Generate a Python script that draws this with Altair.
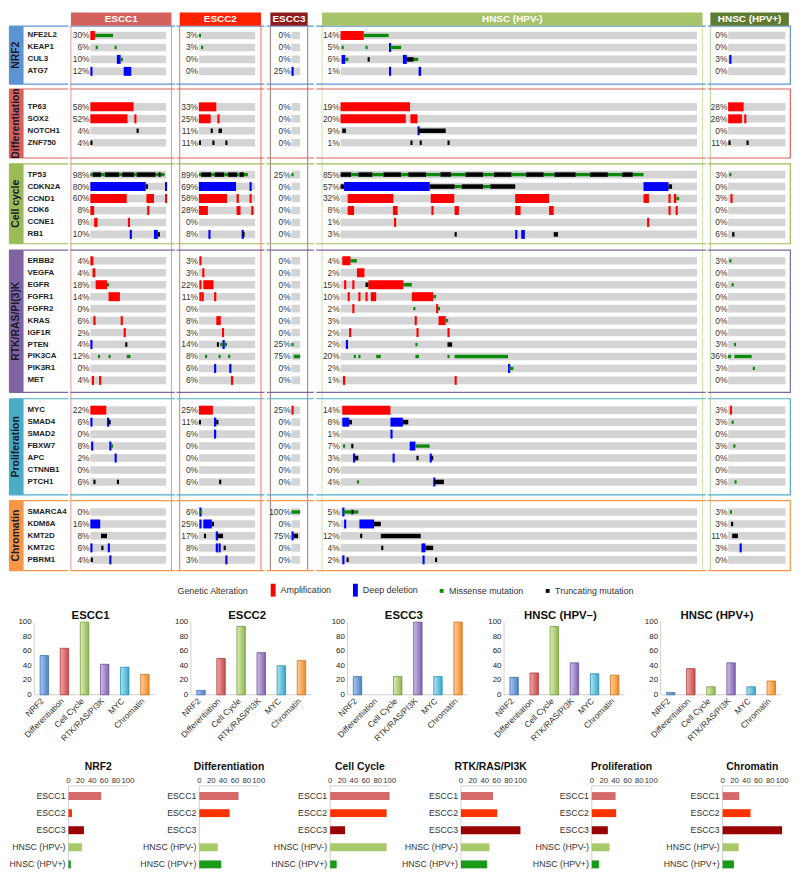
import altair as alt
import pandas as pd

FONT = "Liberation Sans"

# ---------------- data ----------------
COHORTS = ["ESCC1", "ESCC2", "ESCC3", "HNSC (HPV-)", "HNSC (HPV+)"]
GROUPS = ["NRF2", "Differentiation", "Cell cycle", "RTK/RAS/PI(3)K", "Proliferation", "Chromatin"]
GENES_NRF2 = ["NFE2L2", "KEAP1", "CUL3", "ATG7"]
GENES_DIFF = ["TP63", "SOX2", "NOTCH1", "ZNF750"]
GENES_CC = ["TP53", "CDKN2A", "CCND1", "CDK6", "CCNE1", "RB1"]
GENES_RTK = ["ERBB2", "VEGFA", "EGFR", "FGFR1", "FGFR2", "KRAS", "IGF1R", "PTEN", "PIK3CA", "PIK3R1", "MET"]
GENES_PROL = ["MYC", "SMAD4", "SMAD2", "FBXW7", "APC", "CTNNB1", "PTCH1"]
GENES_CHROM = ["SMARCA4", "KDM6A", "KMT2D", "KMT2C", "PBRM1"]
GROUP_GENES = [GENES_NRF2, GENES_DIFF, GENES_CC, GENES_RTK, GENES_PROL, GENES_CHROM]

PCT_ESCC1 = [30, 6, 10, 12, 58, 52, 4, 4, 98, 80, 60, 8, 8, 10, 4, 4, 18, 14, 0, 6, 2, 4, 12, 0, 4, 22, 6, 0, 8, 2, 0, 6, 0, 16, 8, 6, 4]
PCT_ESCC2 = [3, 3, 0, 0, 33, 25, 11, 11, 89, 69, 58, 28, 0, 8, 3, 3, 22, 11, 0, 8, 3, 14, 8, 6, 6, 25, 11, 6, 0, 0, 0, 6, 6, 25, 17, 8, 3]
PCT_ESCC3 = [0, 0, 0, 25, 0, 0, 0, 0, 25, 0, 0, 0, 0, 0, 0, 0, 0, 0, 0, 0, 0, 25, 75, 0, 0, 25, 0, 0, 0, 0, 0, 0, 100, 0, 75, 0, 0]
PCT_HNSC_NEG = [14, 5, 6, 1, 19, 20, 9, 1, 85, 57, 32, 8, 1, 3, 4, 2, 15, 10, 2, 3, 2, 2, 20, 2, 1, 14, 8, 1, 7, 3, 0, 4, 5, 7, 12, 4, 2]
PCT_HNSC_POS = [0, 0, 3, 0, 28, 28, 0, 11, 3, 0, 3, 0, 0, 6, 3, 0, 6, 0, 0, 0, 0, 3, 36, 3, 0, 3, 3, 0, 3, 0, 0, 3, 3, 3, 11, 3, 0]
PCTS = [PCT_ESCC1, PCT_ESCC2, PCT_ESCC3, PCT_HNSC_NEG, PCT_HNSC_POS]

# (gene, cohort index, alteration, start % of samples, end % or None for a single sample)
SEGMENTS = [
    ("NFE2L2", 0, "amp", 0, 6), ("NFE2L2", 0, "mis", 6, 30), ("NFE2L2", 1, "mis", 0, None),
    ("NFE2L2", 3, "amp", 0, 6.5), ("NFE2L2", 3, "mis", 6.5, 13.5),
    ("KEAP1", 0, "mis", 7, None), ("KEAP1", 0, "mis", 32, None), ("KEAP1", 1, "mis", 4, None),
    ("KEAP1", 3, "mis", 0.3, None), ("KEAP1", 3, "mis", 7, None), ("KEAP1", 3, "del", 13.6, None), ("KEAP1", 3, "mis", 14, 17),
    ("CUL3", 0, "del", 35, 40), ("CUL3", 0, "mis", 40, 43),
    ("CUL3", 3, "del", 0.3, 1.3), ("CUL3", 3, "mis", 1.3, 2.2), ("CUL3", 3, "trunc", 7.6, None),
    ("CUL3", 3, "del", 17.5, 18.6), ("CUL3", 3, "trunc", 18.6, 20.5), ("CUL3", 3, "mis", 20.5, 21.8), ("CUL3", 4, "del", 2, 4),
    ("ATG7", 0, "del", 0, 1.5), ("ATG7", 0, "del", 44, 54), ("ATG7", 2, "del", 0, 25),
    ("ATG7", 3, "del", 13.6, None), ("ATG7", 3, "del", 21.9, 22.6),
    ("TP63", 0, "amp", 0, 57), ("TP63", 1, "amp", 0, 31), ("TP63", 3, "amp", 0, 19.5), ("TP63", 4, "amp", 0, 27),
    ("SOX2", 0, "amp", 0, 49), ("SOX2", 0, "amp", 58, None), ("SOX2", 1, "amp", 0, 21), ("SOX2", 1, "amp", 33, None),
    ("SOX2", 3, "amp", 0, 18.3), ("SOX2", 3, "amp", 19.6, 21.6), ("SOX2", 4, "amp", 0, 24), ("SOX2", 4, "amp", 28, None),
    ("NOTCH1", 0, "trunc", 61, None), ("NOTCH1", 1, "trunc", 21, None), ("NOTCH1", 1, "trunc", 35, 41),
    ("NOTCH1", 3, "trunc", 0.5, 1.5), ("NOTCH1", 3, "del", 21.6, None), ("NOTCH1", 3, "trunc", 21.8, 29.5),
    ("ZNF750", 0, "trunc", 0, None), ("ZNF750", 1, "trunc", 0, None), ("ZNF750", 1, "trunc", 24, None), ("ZNF750", 1, "trunc", 47, None),
    ("ZNF750", 3, "trunc", 19.6, None), ("ZNF750", 3, "trunc", 22.2, None), ("ZNF750", 3, "trunc", 30, None),
    ("ZNF750", 4, "trunc", 0.5, None), ("ZNF750", 4, "trunc", 32, None),
    ("TP53", 0, "mis", 0, 3), ("TP53", 0, "trunc", 3, 14), ("TP53", 0, "mis", 14, 19), ("TP53", 0, "trunc", 19, 38),
    ("TP53", 0, "mis", 38, 42), ("TP53", 0, "trunc", 42, 58), ("TP53", 0, "mis", 58, 61), ("TP53", 0, "trunc", 61, 86),
    ("TP53", 0, "mis", 86, 90), ("TP53", 0, "trunc", 90, 93), ("TP53", 0, "mis", 93, 98),
    ("TP53", 1, "mis", 0, 4), ("TP53", 1, "trunc", 4, 22), ("TP53", 1, "mis", 22, 28), ("TP53", 1, "trunc", 28, 45),
    ("TP53", 1, "mis", 45, 52), ("TP53", 1, "trunc", 52, 68), ("TP53", 1, "mis", 68, 72), ("TP53", 1, "trunc", 72, 80), ("TP53", 1, "mis", 80, 87),
    ("TP53", 2, "mis", 0, 25),
    ("TP53", 3, "trunc", 0, 3), ("TP53", 3, "mis", 3, 5), ("TP53", 3, "trunc", 5, 9), ("TP53", 3, "mis", 9, 12),
    ("TP53", 3, "trunc", 12, 17), ("TP53", 3, "mis", 17, 19), ("TP53", 3, "trunc", 19, 24), ("TP53", 3, "mis", 24, 28),
    ("TP53", 3, "trunc", 28, 31), ("TP53", 3, "mis", 31, 35), ("TP53", 3, "trunc", 35, 40), ("TP53", 3, "mis", 40, 43),
    ("TP53", 3, "trunc", 43, 48), ("TP53", 3, "mis", 48, 52), ("TP53", 3, "trunc", 52, 57), ("TP53", 3, "mis", 57, 60),
    ("TP53", 3, "trunc", 60, 66), ("TP53", 3, "mis", 66, 70), ("TP53", 3, "trunc", 70, 75), ("TP53", 3, "mis", 75, 79),
    ("TP53", 3, "trunc", 79, 82), ("TP53", 3, "mis", 82, 85), ("TP53", 4, "mis", 2, None),
    ("CDKN2A", 0, "del", 0, 73), ("CDKN2A", 0, "trunc", 73, 76), ("CDKN2A", 0, "del", 98.5, None),
    ("CDKN2A", 1, "del", 0, 66), ("CDKN2A", 1, "del", 90, None),
    ("CDKN2A", 3, "trunc", 0, 1), ("CDKN2A", 3, "del", 1, 25), ("CDKN2A", 3, "trunc", 25, 32), ("CDKN2A", 3, "mis", 32, 34),
    ("CDKN2A", 3, "trunc", 34, 40), ("CDKN2A", 3, "mis", 40, 42), ("CDKN2A", 3, "trunc", 42, 49),
    ("CDKN2A", 3, "del", 85, 92), ("CDKN2A", 3, "trunc", 92, 93),
    ("CCND1", 0, "amp", 0, 48), ("CCND1", 0, "amp", 74, 84), ("CCND1", 0, "amp", 98.5, None),
    ("CCND1", 1, "amp", 0, 50), ("CCND1", 1, "amp", 67, 71), ("CCND1", 1, "amp", 90, None),
    ("CCND1", 3, "amp", 2, 14.8), ("CCND1", 3, "amp", 25.3, 31.9), ("CCND1", 3, "amp", 49, 58.5), ("CCND1", 3, "amp", 85, 86.5),
    ("CCND1", 3, "amp", 92, None), ("CCND1", 3, "amp", 93.5, 94.2), ("CCND1", 3, "mis", 94.2, 95), ("CCND1", 4, "amp", 4, None),
    ("CDK6", 0, "amp", 0, 5), ("CDK6", 0, "amp", 75, None), ("CDK6", 1, "amp", 0, 16), ("CDK6", 1, "amp", 67, 74), ("CDK6", 1, "amp", 93, None),
    ("CDK6", 3, "amp", 2, 3.8), ("CDK6", 3, "amp", 14.7, 16), ("CDK6", 3, "amp", 25.5, None), ("CDK6", 3, "amp", 32, 33.2),
    ("CDK6", 3, "amp", 49, 50.5), ("CDK6", 3, "amp", 58.5, 59.8), ("CDK6", 3, "amp", 92, None), ("CDK6", 3, "amp", 94, None),
    ("CCNE1", 0, "amp", 5, 9.5), ("CCNE1", 0, "amp", 49.5, 51.5), ("CCNE1", 3, "amp", 15, None), ("CCNE1", 3, "amp", 86, None),
    ("RB1", 0, "del", 52, None), ("RB1", 0, "del", 84, 89), ("RB1", 0, "trunc", 89, 91),
    ("RB1", 1, "del", 17, None), ("RB1", 1, "del", 76, None), ("RB1", 1, "trunc", 77.5, None),
    ("RB1", 3, "trunc", 32, None), ("RB1", 3, "del", 49, None), ("RB1", 3, "del", 50.7, 51.7), ("RB1", 3, "trunc", 59.8, 61),
    ("RB1", 4, "trunc", 7, 11),
    ("ERBB2", 0, "amp", 0, 4), ("ERBB2", 1, "amp", 1, None), ("ERBB2", 3, "amp", 0.5, 2.8), ("ERBB2", 3, "mis", 2.8, 4.6), ("ERBB2", 4, "mis", 2, None),
    ("VEGFA", 0, "amp", 3, 6.5), ("VEGFA", 1, "amp", 6, None), ("VEGFA", 3, "amp", 4.6, 6.7),
    ("EGFR", 0, "amp", 7, 22), ("EGFR", 0, "mis", 22, 24), ("EGFR", 1, "amp", 1, None), ("EGFR", 1, "amp", 8, 26),
    ("EGFR", 3, "amp", 1, None), ("EGFR", 3, "amp", 3.3, None), ("EGFR", 3, "trunc", 7, 7.8), ("EGFR", 3, "amp", 7.8, 17.6),
    ("EGFR", 3, "mis", 17.6, 20), ("EGFR", 4, "mis", 6, None),
    ("FGFR1", 0, "amp", 24, 39), ("FGFR1", 1, "amp", 1, None), ("FGFR1", 1, "amp", 5, None), ("FGFR1", 1, "amp", 27, 31),
    ("FGFR1", 3, "amp", 2, None), ("FGFR1", 3, "amp", 5, None), ("FGFR1", 3, "amp", 7, None), ("FGFR1", 3, "amp", 8.5, 10),
    ("FGFR1", 3, "amp", 20, 26), ("FGFR1", 3, "mis", 26, 26.8),
    ("FGFR2", 3, "amp", 3.3, None), ("FGFR2", 3, "mis", 20.4, None), ("FGFR2", 3, "amp", 26.8, None), ("FGFR2", 3, "mis", 27.3, None),
    ("KRAS", 0, "amp", 4, None), ("KRAS", 0, "amp", 40, 42), ("KRAS", 1, "amp", 31, 39),
    ("KRAS", 3, "amp", 20.8, None), ("KRAS", 3, "amp", 27.5, 29.5), ("KRAS", 3, "mis", 29.5, 30.2),
    ("IGF1R", 0, "amp", 44, None), ("IGF1R", 1, "amp", 41, None), ("IGF1R", 3, "amp", 2.4, None), ("IGF1R", 3, "amp", 21.3, 21.9), ("IGF1R", 3, "amp", 30, None),
    ("PTEN", 0, "del", 0, None), ("PTEN", 0, "trunc", 46, None), ("PTEN", 1, "trunc", 32, None), ("PTEN", 1, "mis", 38, 42),
    ("PTEN", 1, "del", 42, 46), ("PTEN", 1, "mis", 46, 50), ("PTEN", 2, "mis", 0, 25),
    ("PTEN", 3, "del", 1.5, None), ("PTEN", 3, "mis", 21, None), ("PTEN", 3, "trunc", 30, 31.3), ("PTEN", 4, "mis", 10, None),
    ("PIK3CA", 0, "mis", 10, None), ("PIK3CA", 0, "mis", 24, 26), ("PIK3CA", 0, "mis", 48, 53),
    ("PIK3CA", 1, "mis", 11, None), ("PIK3CA", 1, "mis", 35, None), ("PIK3CA", 1, "mis", 52, None), ("PIK3CA", 2, "mis", 25, 100),
    ("PIK3CA", 3, "mis", 3.7, None), ("PIK3CA", 3, "mis", 5, None), ("PIK3CA", 3, "mis", 10, 11.3), ("PIK3CA", 3, "mis", 21, 22),
    ("PIK3CA", 3, "mis", 30, None), ("PIK3CA", 3, "mis", 32, 47), ("PIK3CA", 4, "mis", 0, 5), ("PIK3CA", 4, "mis", 11, 41),
    ("PIK3R1", 1, "del", 27, None), ("PIK3R1", 1, "del", 54, None), ("PIK3R1", 3, "del", 47, None), ("PIK3R1", 3, "mis", 47.3, 48.5),
    ("PIK3R1", 4, "mis", 43, None),
    ("MET", 0, "amp", 2, None), ("MET", 0, "amp", 11.5, None), ("MET", 1, "amp", 57, 61), ("MET", 3, "amp", 0.7, None), ("MET", 3, "amp", 32, None),
    ("MYC", 0, "amp", 0, 21), ("MYC", 1, "amp", 0, 25), ("MYC", 2, "amp", 0, 25), ("MYC", 3, "amp", 0.5, 14), ("MYC", 4, "amp", 3, 5),
    ("SMAD4", 0, "del", 0, None), ("SMAD4", 0, "del", 22, 24), ("SMAD4", 0, "trunc", 24, 25.5),
    ("SMAD4", 1, "trunc", 0, None), ("SMAD4", 1, "del", 27, 31), ("SMAD4", 1, "trunc", 31, 34),
    ("SMAD4", 3, "del", 0.5, 2.4), ("SMAD4", 3, "trunc", 2.4, 3.2), ("SMAD4", 3, "del", 14, 17.5), ("SMAD4", 3, "trunc", 17.5, 19),
    ("SMAD4", 4, "mis", 6, None),
    ("SMAD2", 1, "del", 27, 30), ("SMAD2", 3, "del", 14, None),
    ("FBXW7", 0, "del", 1, None), ("FBXW7", 0, "del", 25, 27), ("FBXW7", 0, "mis", 27, 30),
    ("FBXW7", 3, "mis", 0.7, None), ("FBXW7", 3, "trunc", 3, None), ("FBXW7", 3, "del", 19.4, 21), ("FBXW7", 3, "mis", 21, 25),
    ("FBXW7", 4, "mis", 9, None),
    ("APC", 0, "del", 32, None), ("APC", 3, "del", 3.5, None), ("APC", 3, "trunc", 4, 5), ("APC", 3, "del", 14.6, None),
    ("APC", 3, "trunc", 21.3, None), ("APC", 3, "del", 25, None), ("APC", 3, "trunc", 25.4, None),
    ("PTCH1", 0, "trunc", 4, None), ("PTCH1", 0, "trunc", 35, None), ("PTCH1", 1, "trunc", 36, None),
    ("PTCH1", 3, "mis", 4.6, None), ("PTCH1", 3, "del", 26, None), ("PTCH1", 3, "trunc", 26.3, 29), ("PTCH1", 4, "mis", 11, None),
    ("SMARCA4", 1, "del", 1, None), ("SMARCA4", 1, "mis", 2, 4), ("SMARCA4", 2, "mis", 0, 100),
    ("SMARCA4", 3, "del", 0.5, None), ("SMARCA4", 3, "mis", 0.8, 3), ("SMARCA4", 3, "trunc", 3, 3.5), ("SMARCA4", 3, "mis", 3.5, 5),
    ("SMARCA4", 4, "mis", 3, None),
    ("KDM6A", 0, "del", 0, 13), ("KDM6A", 1, "del", 1, None), ("KDM6A", 1, "del", 8, 23), ("KDM6A", 1, "trunc", 23, 27),
    ("KDM6A", 3, "del", 1, 1.6), ("KDM6A", 3, "del", 5.3, 9.4), ("KDM6A", 3, "trunc", 9.4, 11.3), ("KDM6A", 4, "trunc", 5, None),
    ("KMT2D", 0, "trunc", 14, 22), ("KMT2D", 1, "trunc", 9, None), ("KMT2D", 1, "del", 30, 34), ("KMT2D", 1, "trunc", 34, 43),
    ("KMT2D", 2, "del", 0, 25), ("KMT2D", 2, "trunc", 25, 75), ("KMT2D", 3, "trunc", 5.5, None), ("KMT2D", 3, "trunc", 11.3, 22.5),
    ("KMT2D", 4, "trunc", 7, 17),
    ("KMT2C", 0, "del", 0, None), ("KMT2C", 0, "trunc", 14.5, None), ("KMT2C", 0, "del", 23, None),
    ("KMT2C", 1, "del", 30, 33), ("KMT2C", 1, "del", 35, 38), ("KMT2C", 1, "trunc", 44, None),
    ("KMT2C", 3, "trunc", 11.4, None), ("KMT2C", 3, "del", 22.7, 23.8), ("KMT2C", 3, "trunc", 23.8, 26), ("KMT2C", 4, "del", 20, None),
    ("PBRM1", 0, "trunc", 0.5, None), ("PBRM1", 0, "del", 25, None), ("PBRM1", 1, "del", 47, None),
    ("PBRM1", 3, "del", 0.5, None), ("PBRM1", 3, "trunc", 1.7, None), ("PBRM1", 3, "del", 23, None), ("PBRM1", 3, "trunc", 26.5, None),
]

ALT_TYPES = ["Amplification", "Deep deletion", "Missense mutation", "Truncating mutation"]

PATHWAYS = ["NRF2", "Differentiation", "Cell Cycle", "RTK/RAS/PI3K", "MYC", "Chromatin"]
VBAR_TITLES = ["ESCC1", "ESCC2", "ESCC3", "HNSC (HPV\u2013)", "HNSC (HPV+)"]
VBAR_ESCC1 = [54, 64, 100, 42, 38, 28]
VBAR_ESCC2 = [6, 50, 94, 58, 40, 47]
VBAR_ESCC3 = [25, 0, 25, 100, 25, 100]
VBAR_HNSC_NEG = [24, 30, 94, 44, 29, 27]
VBAR_HNSC_POS = [3, 36, 11, 44, 11, 19]
VBARS = [VBAR_ESCC1, VBAR_ESCC2, VBAR_ESCC3, VBAR_HNSC_NEG, VBAR_HNSC_POS]
Y_TICKS = [0, 20, 40, 60, 80, 100]

HBAR_TITLES = ["NRF2", "Differentiation", "Cell Cycle", "RTK/RAS/PI3K", "Proliferation", "Chromatin"]
HBAR_NRF2 = [55, 6, 26, 23, 4]
HBAR_DIFF = [66, 51, 0, 31, 37]
HBAR_CC = [100, 95, 25, 95, 11]
HBAR_RTK = [54, 61, 100, 48, 44]
HBAR_PROL = [40, 41, 27, 30, 12]
HBAR_CHROM = [28, 47, 100, 27, 19]
HBARS = [HBAR_NRF2, HBAR_DIFF, HBAR_CC, HBAR_RTK, HBAR_PROL, HBAR_CHROM]
HB_COHORTS = ["ESCC1", "ESCC2", "ESCC3", "HNSC (HPV-)", "HNSC (HPV+)"]

# ---------------- styles / layout ----------------
HEADER_COLORS = ["#d4625c", "#ff2200", "#8c1c1c", "#a8c46a", "#5f7b31"]
LINE_COLORS = ["#e39a96", "#ff6a50", "#a07878", "#cfe0a8", "#b5cf95"]
GROUP_COLORS = ["#5b93d3", "#d9605c", "#9bbb59", "#8064a2", "#4bacc6", "#f79646"]
ALT_COLORS = {"amp": "#ff0000", "del": "#0000ff", "mis": "#0a8a0a", "trunc": "#000000"}
ALT_HALF = {"amp": 4.6, "del": 4.6, "mis": 1.7, "trunc": 2.3}
PATH_LIGHT = ["#a9c9f0", "#f2a8a6", "#dcefb8", "#cfc0e8", "#b0e6f3", "#fdcf9a"]
PATH_DARK = ["#4a7fc4", "#c84a48", "#8db54e", "#7e62ae", "#36a6ca", "#f08a28"]
PATH_STROKE = ["#3f6fae", "#a83c3c", "#789a38", "#6a5096", "#2a90b0", "#cf701a"]
HB_COLORS = ["#d46a6a", "#ff3300", "#990000", "#a8c96a", "#1a9a1a"]
AXIS_GRAY = "#cfcfcf"
TXT = "#333333"

SX, SY = 0.98, 0.985
Y_DOM = [1.0, 574.5]
ONCO_H = (Y_DOM[1] - Y_DOM[0]) * SY
ROW_PITCH = 12.25
GROUP_BOX = [(15.7, 25.2, 75.0), (80.0, 98.3, 150.7), (156.7, 167.7, 238.5),
             (245.0, 256.0, 390.7), (397.3, 409.0, 495.7), (501.7, 513.3, 573.3)]
HEAD_Y = (1.7, 15.3)
LINE_Y = (15.3, 573.3)
LABEL_COL = dict(c0=5.5, c1=66.5, s0=6.0, s1=20.5, tx=24.5)
RIGHT_EDGE = 799.0
COLS = [
    dict(c0=66.5, c1=174.0, bar0=87, bar1=165, lines=[67, 170.5], head=(67, 170.5)),
    dict(c0=174.0, c1=264.5, bar0=197, bar1=255, lines=[177.3, 261], head=(177.3, 261)),
    dict(c0=264.5, c1=313.0, bar0=290, bar1=299, lines=[268.3, 306.7], head=(268.3, 306.7)),
    dict(c0=313.0, c1=714.0, bar0=338, bar1=705, lines=[319, 710.7], head=(319, 710.7)),
    dict(c0=714.0, c1=799.5, bar0=735, bar1=794, lines=[716.7], head=(716.7, 797.5)),
]

ys = alt.Scale(domain=Y_DOM, reverse=True, nice=False, zero=False)

rows = []
for gi, genes in enumerate(GROUP_GENES):
    for i, gene in enumerate(genes):
        rows.append(dict(gene=gene, group=GROUPS[gi], y=GROUP_BOX[gi][1] + i * ROW_PITCH))
rows_df = pd.DataFrame(rows)
gene_y = dict(zip(rows_df.gene, rows_df.y))

grp_rules = []
for gi, g in enumerate(GROUPS):
    for yv in (GROUP_BOX[gi][0], GROUP_BOX[gi][2]):
        grp_rules.append(dict(group=g, y=yv, color=GROUP_COLORS[gi]))
grp_rules_df = pd.DataFrame(grp_rules)
grp_df = pd.DataFrame(dict(group=GROUPS, top=[b[0] for b in GROUP_BOX], bottom=[b[2] for b in GROUP_BOX],
                           ym=[(b[0] + b[2]) / 2 for b in GROUP_BOX], color=GROUP_COLORS))


def label_column():
    L = LABEL_COL
    xs = alt.Scale(domain=[L["c0"], L["c1"]], nice=False, zero=False)
    X = lambda f: alt.X(f, scale=xs, axis=None)
    Y = lambda f: alt.Y(f, scale=ys, axis=None)
    rr = grp_rules_df.copy()
    rr["xa"], rr["xb"] = L["s0"], L["c1"]
    gd = grp_df.copy()
    gd["s0"], gd["s1"], gd["sm"] = L["s0"], L["s1"], (L["s0"] + L["s1"]) / 2
    rd = rows_df.copy()
    rd["tx"] = L["tx"]
    layers = [
        alt.Chart(gd).mark_rect().encode(x=X("s0:Q"), x2="s1:Q", y=Y("top:Q"), y2="bottom:Q", color=alt.Color("color:N", scale=None)),
        alt.Chart(gd).mark_rule(strokeWidth=1.2).encode(x=X("s0:Q"), y=Y("top:Q"), y2="bottom:Q", color=alt.Color("color:N", scale=None)),
        alt.Chart(rr).mark_rule(strokeWidth=1.2).encode(x=X("xa:Q"), x2="xb:Q", y=Y("y:Q"), color=alt.Color("color:N", scale=None)),
        alt.Chart(gd).mark_text(angle=270, align="center", baseline="middle", fontWeight="bold", fontSize=10.5,
                                font=FONT, color="#1a1a2a").encode(x=X("sm:Q"), y=Y("ym:Q"), text="group:N"),
        alt.Chart(rd).mark_text(align="left", baseline="middle", fontWeight="bold", fontSize=8, font=FONT,
                                color="#222").encode(x=X("tx:Q"), y=Y("y:Q"), text="gene:N"),
    ]
    return alt.layer(*layers).properties(width=(L["c1"] - L["c0"]) * SX, height=ONCO_H)


def cohort_column(ci):
    g = COLS[ci]
    span = g["bar1"] - g["bar0"]
    u = lambda px: (px - g["bar0"]) / span * 100.0
    xs = alt.Scale(domain=[u(g["c0"]), u(g["c1"])], nice=False, zero=False)
    X = lambda f: alt.X(f, scale=xs, axis=None)
    Y = lambda f: alt.Y(f, scale=ys, axis=None)
    layers = []
    ld = pd.DataFrame(dict(x=[u(v) for v in g["lines"]], y0=LINE_Y[0], y1=LINE_Y[1]))
    layers.append(alt.Chart(ld).mark_rule(color=LINE_COLORS[ci], strokeWidth=1).encode(x=X("x:Q"), y=Y("y0:Q"), y2="y1:Q"))
    rr = grp_rules_df.copy()
    rr["xa"], rr["xb"] = u(g["c0"]), u(g["c1"])
    layers.append(alt.Chart(rr).mark_rule(strokeWidth=1.2).encode(x=X("xa:Q"), x2="xb:Q", y=Y("y:Q"), color=alt.Color("color:N", scale=None)))
    if ci == len(COLS) - 1:
        gd = grp_df.copy()
        gd["xe"] = u(RIGHT_EDGE)
        layers.append(alt.Chart(gd).mark_rule(strokeWidth=1.2).encode(x=X("xe:Q"), y=Y("top:Q"), y2="bottom:Q", color=alt.Color("color:N", scale=None)))
    hd = pd.DataFrame(dict(x0=[u(g["head"][0])], x1=[u(g["head"][1])], xm=[u((g["head"][0] + g["head"][1]) / 2)],
                           y0=[HEAD_Y[0]], y1=[HEAD_Y[1]], ym=[(HEAD_Y[0] + HEAD_Y[1]) / 2 + 0.3], label=[COHORTS[ci]]))
    layers.append(alt.Chart(hd).mark_rect(color=HEADER_COLORS[ci]).encode(x=X("x0:Q"), x2="x1:Q", y=Y("y0:Q"), y2="y1:Q"))
    layers.append(alt.Chart(hd).mark_text(color="white", fontWeight="bold", fontSize=10, font=FONT, baseline="middle").encode(
        x=X("xm:Q"), y=Y("ym:Q"), text="label:N"))
    rd = rows_df.copy()
    rd["x0"], rd["x1"] = 0.0, 100.0
    rd["y0"], rd["y1"] = rd.y - 3.9, rd.y + 3.9
    rd["label"] = [f"{p}%" for p in PCTS[ci]]
    rd["xt"] = u(g["bar0"] - 0.8)
    layers.append(alt.Chart(rd).mark_rect(color="#d4d4d4").encode(x=X("x0:Q"), x2="x1:Q", y=Y("y0:Q"), y2="y1:Q"))
    mw = 2.2 / span * 100.0
    seg = []
    for gene, c, kind, s, e in SEGMENTS:
        if c != ci:
            continue
        e = s + mw if e is None else max(e, s + mw)
        yc = gene_y[gene]
        seg.append(dict(x0=s, x1=e, y0=yc - ALT_HALF[kind], y1=yc + ALT_HALF[kind], color=ALT_COLORS[kind],
                        order=0 if kind in ("amp", "del") else 1))
    sd = pd.DataFrame(seg).sort_values("order")
    layers.append(alt.Chart(sd).mark_rect().encode(x=X("x0:Q"), x2="x1:Q", y=Y("y0:Q"), y2="y1:Q",
                                                   color=alt.Color("color:N", scale=None)))
    layers.append(alt.Chart(rd).mark_text(align="right", baseline="middle", fontSize=8.5, font=FONT, color=TXT).encode(
        x=X("xt:Q"), y=Y("y:Q"), text="label:N"))
    return alt.layer(*layers).properties(width=(g["c1"] - g["c0"]) * SX, height=ONCO_H)


onco = alt.hconcat(label_column(), *[cohort_column(i) for i in range(len(COLS))], spacing=0)

# ---------------- legend row ----------------
TALL = "M-0.38,-1L0.38,-1L0.38,1L-0.38,1Z"
SQ = "M-0.3,-0.3L0.3,-0.3L0.3,0.3L-0.3,0.3Z"
leg_kw = dict(title="Genetic Alteration", orient="none", legendX=170, legendY=0, direction="horizontal",
              titleOrient="left", titleFontSize=9, titleFontWeight="normal", titleColor=TXT, titleFont=FONT,
              titlePadding=18, titleAnchor="middle", titleBaseline="middle",
              labelFontSize=9, labelColor=TXT, labelFont=FONT, labelOffset=1, columnPadding=17,
              symbolSize=169, symbolStrokeWidth=0, symbolOpacity=1)
leg_df = pd.DataFrame(dict(alt=ALT_TYPES))
legend_chart = alt.Chart(leg_df).mark_point(filled=True, opacity=0).encode(
    color=alt.Color("alt:N", sort=ALT_TYPES, scale=alt.Scale(domain=ALT_TYPES, range=[ALT_COLORS[k] for k in ("amp", "del", "mis", "trunc")]),
                    legend=alt.Legend(**leg_kw)),
    shape=alt.Shape("alt:N", sort=ALT_TYPES, scale=alt.Scale(domain=ALT_TYPES, range=[TALL, TALL, SQ, SQ]),
                    legend=alt.Legend(**leg_kw)),
).properties(width=700, height=14)

# ---------------- pathway bar charts (axes drawn inside each view) ----------------
VB_X = [-1.51, 5.59]     # category index space (incl. room for tick labels)
VB_Y = [-60.0, 116.0]    # value space (incl. room for rotated labels and title)
VB_PX_X, VB_PX_Y = 21.7, 0.733
VB_AXIS_X = -0.5


def vbar(ti):
    xs = alt.Scale(domain=VB_X, nice=False, zero=False)
    yv = alt.Scale(domain=VB_Y, nice=False, zero=False)
    X = lambda f: alt.X(f, scale=xs, axis=None)
    Y = lambda f: alt.Y(f, scale=yv, axis=None)
    df = pd.DataFrame(dict(idx=list(range(len(PATHWAYS))), pathway=PATHWAYS, value=VBARS[ti]))
    df["base"] = 0.0
    df["ly"] = -6.5
    df["lx"] = df.idx - 0.1
    tk = pd.DataFrame(dict(tv=Y_TICKS, tlabel=[str(t) for t in Y_TICKS]))
    tk["tx"] = VB_AXIS_X - 0.13
    ax = pd.DataFrame(dict(ax=[VB_AXIS_X], ay0=[0.0], ay1=[100.0]))
    bl = pd.DataFrame(dict(bx0=[VB_AXIS_X], bx1=[VB_X[1] - 0.1], by=[0.0]))
    tt = pd.DataFrame(dict(hx=[2.3], hy=[108.5], hlabel=[VBAR_TITLES[ti]]))
    layers = [
        alt.Chart(ax).mark_rule(color=AXIS_GRAY, strokeWidth=1).encode(x=X("ax:Q"), y=Y("ay0:Q"), y2="ay1:Q"),
        alt.Chart(bl).mark_rule(color=AXIS_GRAY, strokeWidth=1).encode(x=X("bx0:Q"), x2="bx1:Q", y=Y("by:Q")),
    ]
    for i in range(len(PATHWAYS)):
        grad = alt.Gradient(gradient="linear", x1=0, x2=1, y1=0, y2=0,
                            stops=[alt.GradientStop(color=PATH_LIGHT[i], offset=0),
                                   alt.GradientStop(color=PATH_DARK[i], offset=1)])
        layers.append(alt.Chart(df).transform_filter((alt.datum.idx == i) & (alt.datum.value > 0)).mark_bar(
            size=8.5, color=grad, stroke=PATH_STROKE[i], strokeWidth=0.8).encode(x=X("idx:Q"), y=Y("value:Q"), y2="base:Q"))
    layers += [
        alt.Chart(tk).mark_text(align="right", baseline="middle", fontSize=8, font=FONT, color="#222").encode(
            x=X("tx:Q"), y=Y("tv:Q"), text="tlabel:N"),
        alt.Chart(df).mark_text(angle=315, align="right", baseline="middle", fontSize=8.5, font=FONT, color=TXT).encode(
            x=X("lx:Q"), y=Y("ly:Q"), text="pathway:N"),
        alt.Chart(tt).mark_text(align="center", baseline="middle", fontSize=11.5, fontWeight="bold", font=FONT, color="#111").encode(
            x=X("hx:Q"), y=Y("hy:Q"), text="hlabel:N"),
    ]
    return alt.layer(*layers).properties(width=(VB_X[1] - VB_X[0]) * VB_PX_X, height=(VB_Y[1] - VB_Y[0]) * VB_PX_Y)


HB_PX_X, HB_PX_Y = 0.6, 18.8
HB_Y = [-2.1, 4.3]
HB_LEFT = -100.0


def hbar(ti):
    right = 103.3 if ti == len(HBARS) - 1 else 120.0
    xs = alt.Scale(domain=[HB_LEFT, right], nice=False, zero=False)
    yv = alt.Scale(domain=HB_Y, reverse=True, nice=False, zero=False)
    X = lambda f: alt.X(f, scale=xs, axis=None)
    Y = lambda f: alt.Y(f, scale=yv, axis=None)
    df = pd.DataFrame(dict(idx=list(range(len(HB_COHORTS))), cohort=HB_COHORTS, value=HBARS[ti], color=HB_COLORS))
    df["base"] = 0.0
    df["lx"] = -5.0
    tk = pd.DataFrame(dict(tv=Y_TICKS, tlabel=[str(t) for t in Y_TICKS]))
    tk["ty"] = -0.88
    axh = pd.DataFrame(dict(x0=[0.0], x1=[100.0], y=[-0.6]))
    axv = pd.DataFrame(dict(x=[0.0], y0=[-0.6], y1=[4.3]))
    tt = pd.DataFrame(dict(hx=[50.0], hy=[-1.72], hlabel=[HBAR_TITLES[ti]]))
    layers = [
        alt.Chart(axh).mark_rule(color=AXIS_GRAY, strokeWidth=1).encode(x=X("x0:Q"), x2="x1:Q", y=Y("y:Q")),
        alt.Chart(axv).mark_rule(color=AXIS_GRAY, strokeWidth=1).encode(x=X("x:Q"), y=Y("y0:Q"), y2="y1:Q"),
        alt.Chart(df).mark_bar(size=8, orient="horizontal").encode(
            x=X("base:Q"), x2="value:Q", y=Y("idx:Q"), color=alt.Color("color:N", scale=None)),
        alt.Chart(df).mark_text(align="right", baseline="middle", fontSize=8.8, font=FONT, color=TXT).encode(
            x=X("lx:Q"), y=Y("idx:Q"), text="cohort:N"),
        alt.Chart(tk).mark_text(align="center", baseline="middle", fontSize=7.8, font=FONT, color=TXT).encode(
            x=X("tv:Q"), y=Y("ty:Q"), text="tlabel:N"),
        alt.Chart(tt).mark_text(align="center", baseline="middle", fontSize=10.5, fontWeight="bold", font=FONT, color="#111").encode(
            x=X("hx:Q"), y=Y("hy:Q"), text="hlabel:N"),
    ]
    return alt.layer(*layers).properties(width=(right - HB_LEFT) * HB_PX_X, height=(HB_Y[1] - HB_Y[0]) * HB_PX_Y)


vrow = alt.hconcat(*[vbar(i) for i in range(len(VBARS))], spacing=3)
hrow = alt.hconcat(*[hbar(i) for i in range(len(HBARS))], spacing=0)

chart = alt.vconcat(onco, legend_chart, vrow, hrow, spacing=12).resolve_scale(
    color="independent", shape="independent"
).properties(padding={"left": 0, "top": 0, "right": 0, "bottom": 0}).configure(font=FONT).configure_view(stroke=None)

chart.save("out.html", embed_options={"renderer": "svg", "actions": False})
